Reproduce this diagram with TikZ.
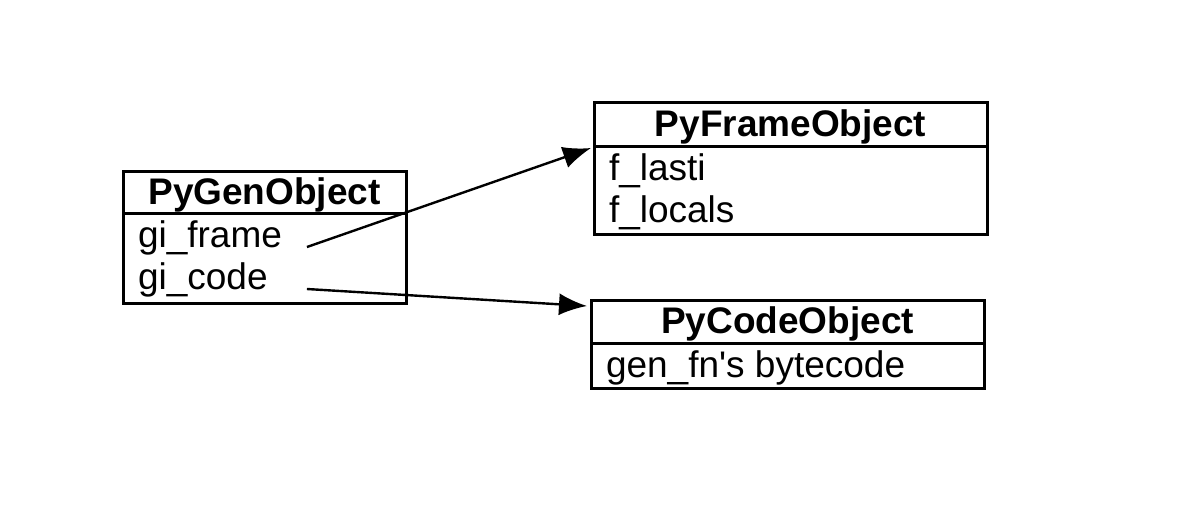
\documentclass[tikz,border=0pt]{standalone}
\usepackage{fontspec}
\setmainfont{Liberation Sans}
\usepackage{tikz}
\usetikzlibrary{positioning,arrows.meta}

\begin{document}
\begin{tikzpicture}[
  x=0.5pt, y=-0.5pt,
  font=\fontsize{18.5}{22}\selectfont,
  head/.style={draw, line width=1.5pt, outer sep=0pt, font=\fontsize{18.5}{22}\selectfont\bfseries,
               inner ysep=0pt, text height=15pt, text depth=3pt, minimum height=21pt},
  body/.style={draw, line width=1.5pt, outer sep=0pt, inner sep=0pt},
  field/.style={inner xsep=7.5pt, inner ysep=0pt, outer sep=0pt, text height=15.5pt, text depth=2.5pt,
                minimum height=21pt, anchor=north west},
  arr/.style={-{Latex[length=14pt,width=11pt]}, line width=1.2pt}
]
\useasboundingbox (0,0) rectangle (1204,531);
% --- generator ----------------------------------------------------------
\node[head, minimum width=141.5pt, anchor=north west] (genhead) at (123,171) {PyGenObject};
\node[body, minimum width=141.5pt, minimum height=45pt, below=0pt of genhead] (genbody) {};
\node[field] (giframe) at (genbody.north west) {gi\_frame};
\node[field] (gicode) at (giframe.south west) {gi\_code};
% --- frame --------------------------------------------------------------
\node[head, minimum width=196.5pt, minimum height=22pt, anchor=north west] (framehead) at (594,102) {PyFrameObject};
\node[body, minimum width=196.5pt, minimum height=44pt, below=0pt of framehead] (framebody) {};
\node[field] (flasti) at (framebody.north west) {f\_lasti};
\node[field] (flocals) at (flasti.south west) {f\_locals};
% --- code ---------------------------------------------------------------
\node[head, minimum width=196.5pt, minimum height=21.5pt, anchor=north west] (codehead) at (591,300) {PyCodeObject};
\node[body, minimum width=196.5pt, minimum height=22.5pt, below=0pt of codehead] (codebody) {};
\node[field] (bytecode) at (codebody.north west) {gen\_fn\textquotesingle s bytecode};
% --- arrows -------------------------------------------------------------
\coordinate (framestart) at ([xshift=5pt]giframe.base east);
\coordinate (codestart) at (framestart |- gicode.base);
\draw[arr] (framestart) -- ([shift={(-1.5pt,-1pt)}]framehead.south west);
\draw[arr] (codestart) -- ([shift={(-2pt,-3pt)}]codehead.north west);
\end{tikzpicture}
\end{document}
